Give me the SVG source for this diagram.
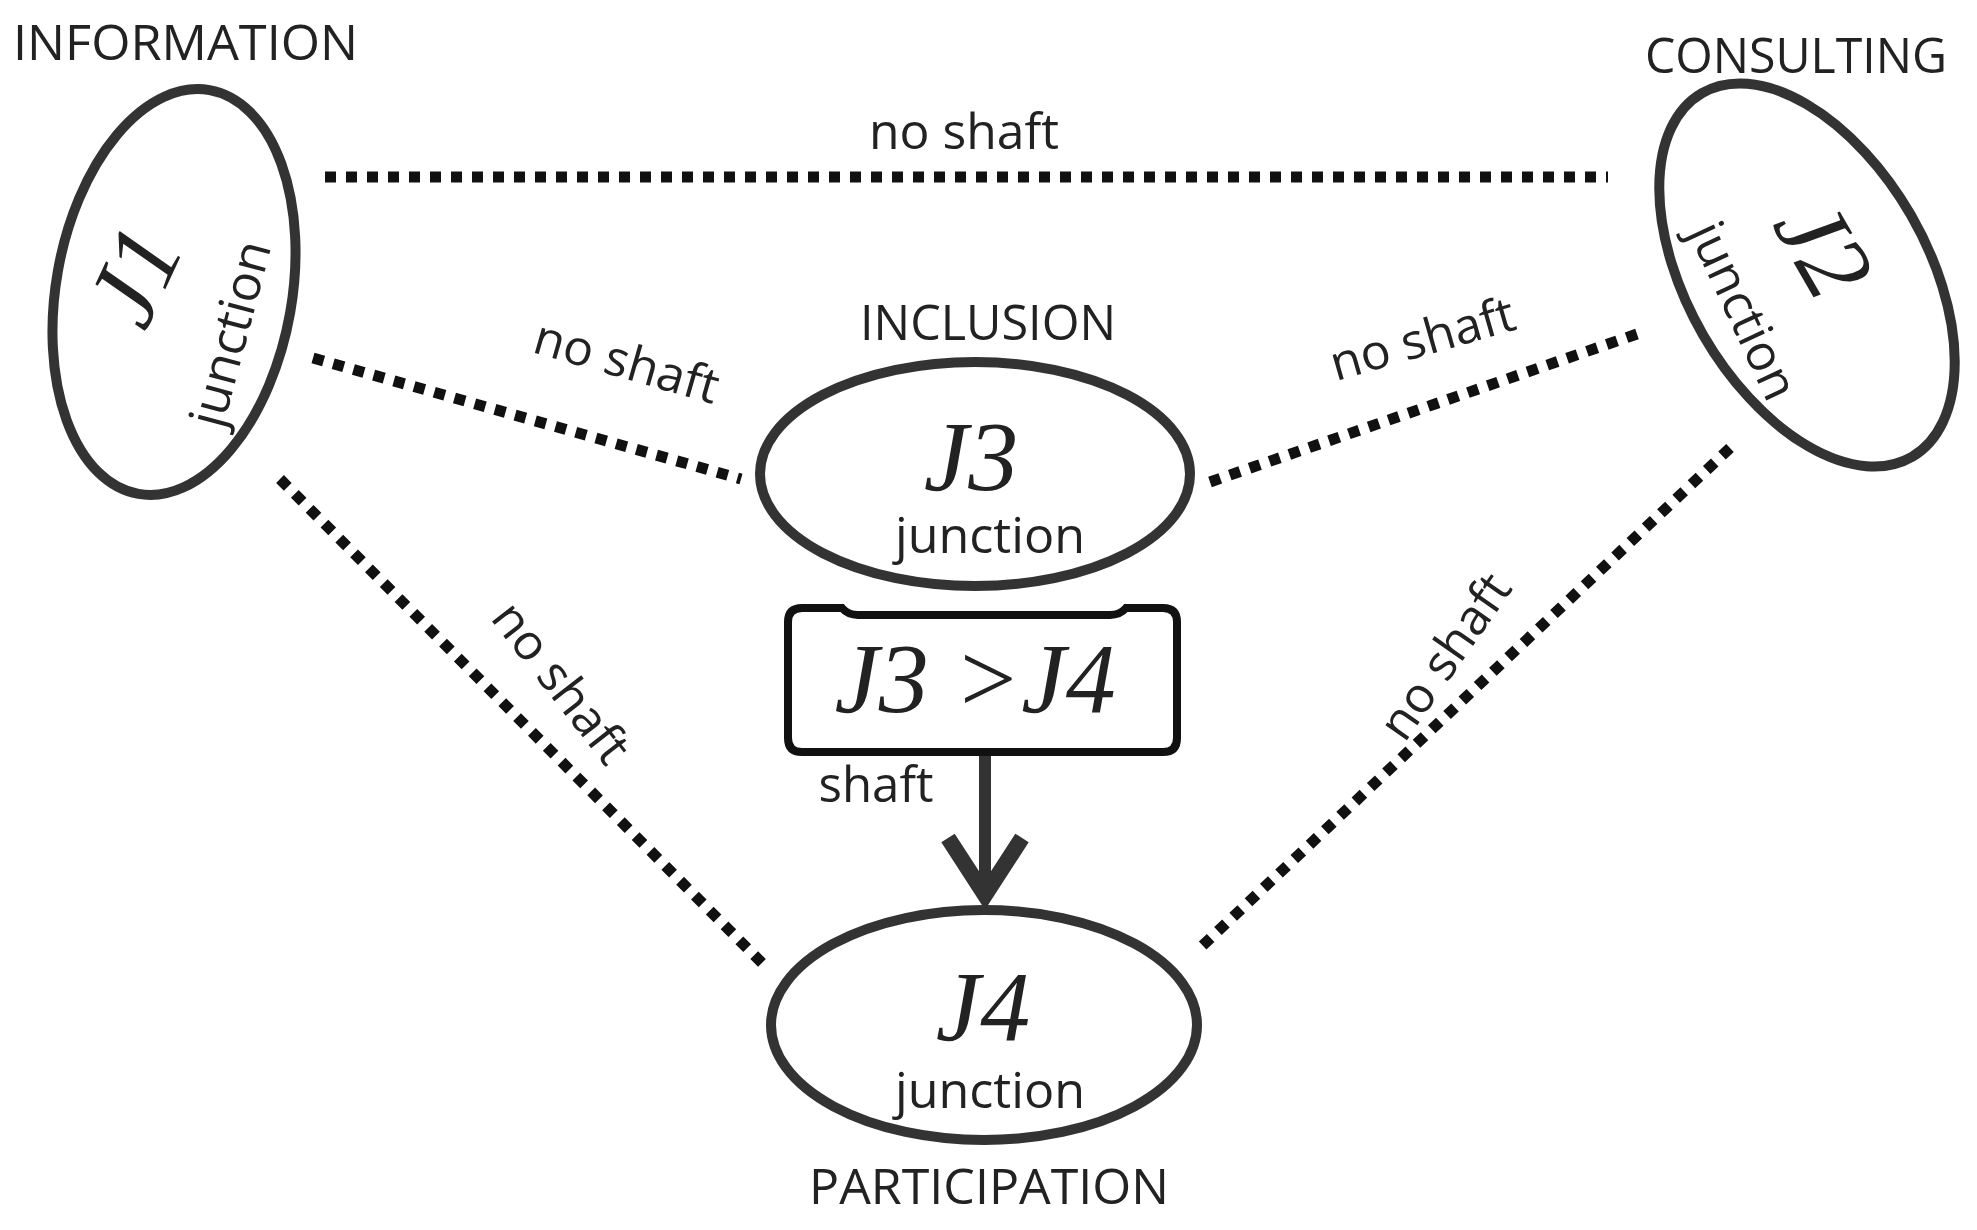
<svg xmlns="http://www.w3.org/2000/svg" width="1977" height="1230" viewBox="0 0 1977 1230">
<style>
.n{fill:none;stroke:#333;stroke-width:10}
.d{stroke:#111;stroke-width:11;stroke-dasharray:11 10;fill:none}
.t{font-family:"Open Sans",sans-serif;fill:#222;font-size:49px}
.j{font-family:"Liberation Serif",serif;font-style:italic;fill:#222;font-size:100px}
.s{font-family:"Open Sans",sans-serif;fill:#222;font-size:50px}
</style>
<rect width="1977" height="1230" fill="#fff"/>
<g id="connectors">
<line class="d" x1="325" y1="177" x2="1608" y2="177"/>
<line class="d" x1="313" y1="358" x2="741" y2="479"/>
<line class="d" x1="1637" y1="334" x2="1210" y2="482"/>
<line class="d" x1="280" y1="479" x2="767" y2="968"/>
<line class="d" x1="1730" y1="448" x2="1200" y2="948"/>
<line x1="985" y1="752" x2="985" y2="890" stroke="#333" stroke-width="12"/>
<polyline points="948,838 985,895 1022,838" fill="none" stroke="#333" stroke-width="16"/>
<text class="t" x="964" y="149" text-anchor="middle" textLength="190" lengthAdjust="spacingAndGlyphs">no shaft</text>
<text class="t" transform="translate(622,378) rotate(16)" text-anchor="middle" textLength="190" lengthAdjust="spacingAndGlyphs">no shaft</text>
<text class="t" transform="translate(1427,355) rotate(-16)" text-anchor="middle" textLength="190" lengthAdjust="spacingAndGlyphs">no shaft</text>
<text class="t" transform="translate(548,693) rotate(52)" text-anchor="middle" textLength="190" lengthAdjust="spacingAndGlyphs">no shaft</text>
<text class="t" transform="translate(1459,666) rotate(-55)" text-anchor="middle" textLength="190" lengthAdjust="spacingAndGlyphs">no shaft</text>
<text class="s" x="876" y="802" text-anchor="middle" textLength="115" lengthAdjust="spacingAndGlyphs">shaft</text>
</g>
<g id="J1">
<ellipse class="n" cx="174" cy="292" rx="118" ry="205" transform="rotate(10 174 292)"/>
<text class="j" transform="translate(165,290) rotate(-65)" text-anchor="middle">J1</text>
<text class="s" transform="translate(247,338) rotate(-75)" text-anchor="middle" textLength="190" lengthAdjust="spacingAndGlyphs">junction</text>
<text class="t" x="13" y="60" textLength="345" lengthAdjust="spacingAndGlyphs">INFORMATION</text>
</g>
<g id="J2">
<ellipse class="n" cx="1807" cy="275" rx="120" ry="210" transform="rotate(-30 1807 275)"/>
<text class="j" transform="translate(1795,265) rotate(60)" text-anchor="middle">J2</text>
<text class="s" transform="translate(1728,318) rotate(65)" text-anchor="middle" textLength="190" lengthAdjust="spacingAndGlyphs">junction</text>
<text class="t" x="1645" y="73" textLength="302" lengthAdjust="spacingAndGlyphs">CONSULTING</text>
</g>
<g id="J3">
<ellipse class="n" cx="975" cy="474" rx="215" ry="112"/>
<text class="j" x="971" y="490" text-anchor="middle">J3</text>
<text class="s" x="990" y="553" text-anchor="middle" textLength="190" lengthAdjust="spacingAndGlyphs">junction</text>
<text class="t" x="988" y="340" text-anchor="middle" textLength="256" lengthAdjust="spacingAndGlyphs">INCLUSION</text>
</g>
<g id="box">
<path d="M788 622 Q788 608 802 608 L842 608 Q848 615 858 615 L1110 615 Q1120 615 1126 608 L1163 608 Q1177 608 1177 622 L1177 738 Q1177 752 1163 752 L802 752 Q788 752 788 738 Z" fill="#fff" stroke="#111" stroke-width="8"/>
<text class="j" x="975" y="712" text-anchor="middle" font-size="85">J3 &gt;J4</text>
</g>
<g id="J4">
<ellipse class="n" cx="984" cy="1025" rx="213" ry="115"/>
<text class="j" x="983" y="1040" text-anchor="middle">J4</text>
<text class="s" x="990" y="1108" text-anchor="middle" textLength="190" lengthAdjust="spacingAndGlyphs">junction</text>
<text class="t" x="989" y="1204" text-anchor="middle" textLength="360" lengthAdjust="spacingAndGlyphs">PARTICIPATION</text>
</g>
</svg>
